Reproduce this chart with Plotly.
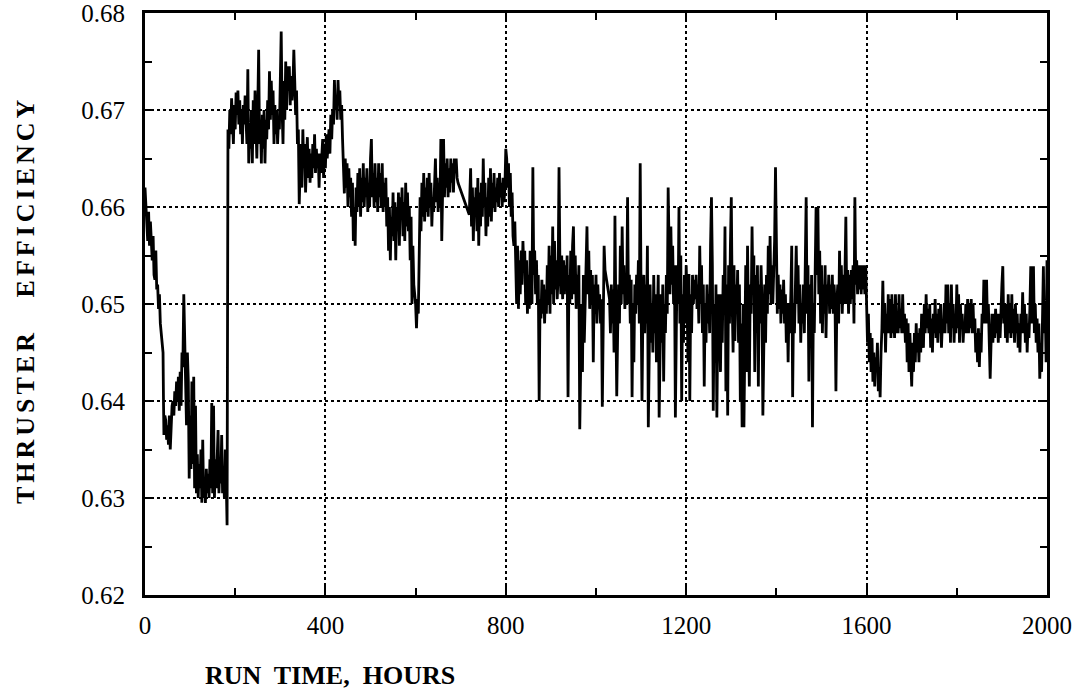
import plotly.graph_objects as go

hours = [
0,2,4,6,8,10,12,14,16,18,20,22,24,26,28,30,32,34,36,38,40,41,42,44,46,48,50,52,54,56,58,60,62,64,66,68,70,72,74,76,78,80,
82,84,86,88,90,92,94,96,98,100,102,104,106,108,110,112,114,116,118,120,122,124,126,128,130,132,134,136,138,140,142,144,146,148,150,
152,154,156,158,160,162,164,166,168,170,172,174,176,178,180,182,184,
186,188,190,192,194,196,198,200,202,204,206,208,210,212,214,216,218,220,222,224,226,228,230,232,234,236,238,240,242,244,246,248,250,
252,254,256,258,260,262,264,266,268,270,272,274,276,278,280,282,284,286,288,290,292,294,296,298,300,302,304,306,308,310,312,314,316,
318,320,322,324,326,328,330,332,334,336,338,340,342,344,346,348,350,352,354,356,358,360,362,364,366,368,370,372,374,376,378,380,382,
384,386,388,390,392,394,396,398,400,402,404,406,408,410,412,414,416,418,420,422,424,426,428,430,432,434,436,438,440,
442,444,446,448,450,452,454,456,458,460,462,464,466,468,470,472,474,476,478,480,482,484,486,488,490,492,494,496,498,500,502,504,506,
508,510,512,514,516,518,520,522,524,526,528,530,532,534,536,538,540,542,544,546,548,550,552,554,556,558,560,562,564,566,568,570,572,
574,576,578,580,582,584,586,588,590,592,594,596,598,600,602,604,606,608,610,612,614,616,618,620,622,624,626,628,630,632,634,636,638,
640,642,644,646,648,650,652,654,656,658,660,662,664,666,668,670,672,674,676,678,680,682,684,686,688,690,692,694,719,722,724,726,728,
730,732,734,736,738,740,742,744,746,748,750,752,754,756,758,760,762,764,766,768,770,772,774,776,778,780,782,784,786,788,790,792,794,
796,798,800,802,804,
806,808,810,812,814,816,818,820,822,824,826,828,830,832,834,836,838,840,842,844,846,848,850,852,854,856,858,860,862,864,866,868,870,
872,874,876,878,880,882,884,886,888,890,892,894,896,898,900,902,904,906,908,910,912,914,916,918,920,922,924,926,928,930,932,934,936,
938,940,942,944,946,948,950,952,954,956,958,960,962,964,966,968,970,972,974,976,978,980,982,984,986,988,990,992,994,996,998,1000,
1002,1004,1006,1008,1010,1012,1014,1016,1018,1020,1030,1032,1034,1036,1038,1040,1042,1044,1046,1048,1050,1052,1054,1056,1058,1060,
1062,1064,1066,1068,1070,1072,1074,1076,1078,1080,1082,1084,1086,1088,1090,1092,1094,1096,1098,1100,1102,1104,1106,1108,1110,1112,
1114,1116,1118,1120,1122,1124,1126,1128,1130,1132,1134,1136,1138,1140,1142,1144,1146,1148,1150,1152,1154,1156,1158,1160,1162,1164,
1166,1168,1170,1172,1174,1176,1178,1180,1182,1184,1186,1188,1190,1192,1194,1196,1198,1200,
1202,1204,1206,1208,1210,1212,1214,1216,1218,1220,1222,1224,1226,1228,1230,1232,1234,1236,1238,1240,1242,1244,1246,1248,1250,1252,
1254,1256,1258,1260,1262,1264,1266,1268,1270,1272,1274,1276,1278,1280,1282,1284,1286,1288,1290,1292,1294,1296,1298,1300,1302,1304,
1306,1308,1310,1312,1314,1316,1318,1320,1322,1324,1326,1328,1330,1332,1334,1336,1338,1340,1342,1344,1346,1348,1350,1352,1354,1356,
1358,1360,1362,1364,1366,1368,1370,1372,1374,1376,1378,1380,1382,1384,1386,1388,1390,1392,1394,1396,1398,1400,1402,1404,1406,1408,
1410,1412,1414,1416,1418,1420,1422,1424,1426,1428,1430,1432,1434,1436,1438,1440,1442,1444,1446,1448,1450,1452,1454,1456,1458,1460,
1462,1464,1466,1468,1470,1472,1474,1476,1478,1480,1482,1484,1486,1488,1490,1492,1494,1496,1498,1500,1502,1504,1506,1508,1510,1512,
1514,1516,1518,1520,1522,1524,1526,1528,1530,1532,1534,1536,1538,1540,1542,1544,1546,1548,1550,1552,1554,1556,1558,1560,1562,1564,
1566,1568,1570,1572,1574,1576,1578,1580,1582,1584,1586,1588,1590,1592,1594,1596,1598,1600,
1602,1604,1606,1608,1610,1612,1614,1616,1618,1620,1622,1624,1626,1628,1630,1632,1634,1636,1638,1640,1642,1644,1646,1648,1650,1652,
1654,1656,1658,1660,1662,1664,1666,1668,1670,1672,1674,1676,1678,1680,1682,1684,1686,1688,1690,1692,1694,1696,1698,1700,1702,1704,
1706,1708,1710,1712,1714,1716,1718,1720,1722,1724,1726,1728,1730,1732,1734,1736,1738,1740,1742,1744,1746,1748,1750,1752,1754,1756,
1758,1760,1762,1764,1766,1768,1770,1772,1774,1776,1778,1780,1782,1784,1786,1788,1790,1792,1794,1796,1798,1800,1802,1804,1806,1808,
1810,1812,1814,1816,1818,1820,1822,1824,1826,1828,1830,1832,1834,1836,1838,1840,1842,1844,1846,1848,1850,1852,1854,1856,1858,1860,
1862,1864,1866,1868,1870,1872,1874,1876,1878,1880,1882,1884,1886,1888,1890,1892,1894,1896,1898,1900,1902,1904,1906,1908,1910,1912,
1914,1916,1918,1920,1922,1924,1926,1928,1930,1932,1934,1936,1938,1940,1942,1944,1946,1948,1950,1952,1954,1956,1958,1960,1962,1964,
1966,1968,1970,1972,1974,1976,1978,1980,1982,1984,1986,1988,1990,1992,1994,1996,1998,2000,
]

efficiency = [
# 0-184 h
0.6620,0.6605,0.6590,0.6565,0.6595,0.6560,0.6585,0.6555,0.6545,0.6570,0.6530,0.6525,0.6555,0.6515,0.6520,0.6495,0.6510,0.6480,
0.6470,0.6455,0.6450,0.6400,0.6365,0.6385,0.6380,0.6360,0.6375,0.6355,0.6385,0.6350,0.6380,0.6395,0.6400,0.6385,0.6410,0.6395,
0.6420,0.6400,0.6425,0.6390,0.6430,0.6395,0.6450,0.6435,0.6510,0.6455,0.6440,0.6375,0.6450,0.6420,0.6320,0.6385,0.6330,0.6420,
0.6335,0.6425,0.6310,0.6395,0.6305,0.6345,0.6300,0.6335,0.6310,0.6350,0.6295,0.6360,0.6300,0.6320,0.6295,0.6330,0.6305,0.6325,
0.6300,0.6340,0.6310,0.6398,0.6305,0.6395,0.6300,0.6340,0.6310,0.6335,0.6370,0.6305,0.6340,0.6315,0.6365,0.6305,0.6330,0.6300,
0.6350,0.6320,0.6272,0.6680,
# 186-440 h
0.6660,0.6700,0.6675,0.6712,0.6690,0.6665,0.6705,0.6680,0.6718,0.6695,0.6720,0.6685,0.6710,0.6675,0.6700,0.6665,0.6705,0.6685,
0.6715,0.6690,0.6665,0.6742,0.6645,0.6680,0.6660,0.6700,0.6645,0.6710,0.6665,0.6720,0.6680,0.6650,0.6700,0.6762,0.6665,0.6690,
0.6645,0.6695,0.6660,0.6700,0.6645,0.6690,0.6670,0.6710,0.6680,0.6740,0.6690,0.6730,0.6695,0.6720,0.6665,0.6705,0.6675,0.6700,
0.6665,0.6690,0.6680,0.6720,0.6781,0.6700,0.6665,0.6730,0.6690,0.6750,0.6700,0.6745,0.6720,0.6745,0.6705,0.6735,0.6710,0.6725,
0.6762,0.6730,0.6695,0.6720,0.6665,0.6680,0.6603,0.6640,0.6665,0.6620,0.6680,0.6640,0.6665,0.6615,0.6650,0.6672,0.6630,0.6660,
0.6625,0.6655,0.6630,0.6665,0.6640,0.6675,0.6635,0.6660,0.6640,0.6655,0.6620,0.6655,0.6635,0.6650,0.6670,0.6630,0.6665,0.6640,
0.6675,0.6650,0.6665,0.6680,0.6655,0.6695,0.6670,0.6700,0.6685,0.6731,0.6700,0.6715,0.6690,0.6731,0.6705,0.6720,0.6690,0.6705,
0.6670,0.6640,
# 442-804 h
0.6614,0.6650,0.6620,0.6645,0.6600,0.6640,0.6610,0.6630,0.6590,0.6625,0.6565,0.6600,0.6560,0.6620,0.6595,0.6635,0.6600,0.6640,
0.6590,0.6630,0.6605,0.6645,0.6600,0.6630,0.6610,0.6640,0.6595,0.6625,0.6600,0.6650,0.6670,0.6610,0.6635,0.6600,0.6645,0.6605,
0.6630,0.6595,0.6645,0.6610,0.6635,0.6600,0.6645,0.6595,0.6625,0.6600,0.6630,0.6580,0.6610,0.6555,0.6600,0.6545,0.6590,0.6570,
0.6615,0.6565,0.6605,0.6545,0.6600,0.6575,0.6615,0.6560,0.6610,0.6590,0.6620,0.6570,0.6605,0.6565,0.6625,0.6580,0.6615,0.6575,
0.6600,0.6545,0.6590,0.6500,0.6560,0.6520,0.6510,0.6500,0.6475,0.6505,0.6490,0.6565,0.6610,0.6575,0.6625,0.6590,0.6635,0.6585,
0.6620,0.6595,0.6630,0.6590,0.6635,0.6600,0.6625,0.6580,0.6610,0.6595,0.6620,0.6650,0.6605,0.6630,0.6595,0.6625,0.6600,0.6670,
0.6565,0.6630,0.6670,0.6610,0.6645,0.6620,0.6650,0.6610,0.6640,0.6615,0.6650,0.6625,0.6645,0.6615,0.6650,0.6635,0.6650,0.6630,
0.6625,0.6592,0.6640,0.6580,0.6620,0.6565,0.6610,0.6590,0.6620,0.6575,0.6630,0.6560,0.6615,0.6580,0.6625,0.6590,0.6650,0.6600,
0.6625,0.6570,0.6610,0.6580,0.6630,0.6590,0.6640,0.6585,0.6625,0.6600,0.6635,0.6595,0.6620,0.6605,0.6630,0.6600,0.6635,0.6610,
0.6625,0.6600,0.6630,0.6605,0.6620,0.6660,0.6650,0.6620,
# 806-1200 h
0.6645,0.6600,0.6635,0.6590,0.6615,0.6570,0.6560,0.6585,0.6520,0.6500,0.6560,0.6495,0.6545,0.6510,0.6555,0.6520,0.6565,0.6535,
0.6555,0.6500,0.6545,0.6490,0.6530,0.6495,0.6555,0.6520,0.6500,0.6641,0.6530,0.6555,0.6510,0.6545,0.6500,0.6530,0.6400,0.6505,
0.6485,0.6525,0.6490,0.6520,0.6480,0.6515,0.6490,0.6540,0.6500,0.6560,0.6490,0.6550,0.6510,0.6580,0.6500,0.6565,0.6515,0.6545,
0.6505,0.6530,0.6641,0.6540,0.6510,0.6550,0.6505,0.6545,0.6510,0.6540,0.6520,0.6550,0.6404,0.6530,0.6500,0.6555,0.6505,0.6560,
0.6580,0.6510,0.6550,0.6495,0.6530,0.6500,0.6540,0.6371,0.6450,0.6500,0.6430,0.6530,0.6460,0.6500,0.6545,0.6580,0.6510,0.6555,
0.6495,0.6535,0.6500,0.6530,0.6440,0.6520,0.6490,0.6530,0.6480,0.6520,0.6495,0.6510,0.6480,0.6505,0.6394,0.6470,0.6560,0.6535,
0.6505,0.6470,0.6520,0.6480,0.6515,0.6450,0.6591,0.6490,0.6405,0.6470,0.6520,0.6480,0.6560,0.6500,0.6580,0.6510,0.6540,0.6495,
0.6530,0.6500,0.6610,0.6500,0.6530,0.6480,0.6525,0.6404,0.6500,0.6440,0.6520,0.6490,0.6530,0.6500,0.6545,0.6480,0.6645,0.6500,
0.6400,0.6490,0.6530,0.6470,0.6520,0.6480,0.6560,0.6373,0.6480,0.6520,0.6460,0.6500,0.6450,0.6530,0.6470,0.6510,0.6440,0.6500,
0.6530,0.6383,0.6480,0.6510,0.6460,0.6520,0.6420,0.6500,0.6470,0.6530,0.6490,0.6620,0.6560,0.6510,0.6580,0.6520,0.6560,0.6500,
0.6540,0.6383,0.6470,0.6540,0.6500,0.6600,0.6480,0.6550,0.6400,0.6510,0.6460,0.6530,0.6480,0.6540,
# 1202-1600 h
0.6500,0.6440,0.6531,0.6400,0.6510,0.6470,0.6530,0.6500,0.6525,0.6505,0.6530,0.6495,0.6520,0.6480,0.6560,0.6500,0.6540,0.6470,
0.6520,0.6415,0.6500,0.6460,0.6520,0.6480,0.6510,0.6470,0.6560,0.6610,0.6540,0.6390,0.6500,0.6440,0.6520,0.6383,0.6480,0.6510,
0.6470,0.6430,0.6510,0.6460,0.6530,0.6490,0.6580,0.6410,0.6520,0.6385,0.6540,0.6480,0.6560,0.6610,0.6500,0.6450,0.6540,0.6462,
0.6520,0.6490,0.6535,0.6460,0.6520,0.6400,0.6480,0.6373,0.6500,0.6373,0.6460,0.6540,0.6430,0.6560,0.6480,0.6415,0.6520,0.6490,
0.6580,0.6510,0.6550,0.6430,0.6530,0.6470,0.6540,0.6415,0.6520,0.6480,0.6540,0.6500,0.6385,0.6490,0.6520,0.6460,0.6530,0.6490,
0.6560,0.6510,0.6570,0.6500,0.6540,0.6500,0.6530,0.6565,0.6641,0.6520,0.6490,0.6530,0.6495,0.6520,0.6480,0.6515,0.6490,0.6525,
0.6480,0.6510,0.6460,0.6500,0.6440,0.6500,0.6470,0.6510,0.6560,0.6404,0.6500,0.6470,0.6520,0.6560,0.6500,0.6540,0.6480,0.6520,
0.6460,0.6500,0.6480,0.6520,0.6470,0.6520,0.6610,0.6490,0.6540,0.6420,0.6520,0.6460,0.6530,0.6373,0.6500,0.6470,0.6540,0.6600,
0.6530,0.6600,0.6510,0.6555,0.6480,0.6540,0.6470,0.6520,0.6490,0.6540,0.6465,0.6520,0.6500,0.6530,0.6490,0.6520,0.6495,0.6530,
0.6490,0.6520,0.6500,0.6410,0.6500,0.6520,0.6480,0.6555,0.6500,0.6540,0.6490,0.6530,0.6500,0.6530,0.6590,0.6500,0.6535,0.6490,
0.6530,0.6500,0.6535,0.6505,0.6540,0.6480,0.6610,0.6520,0.6545,0.6510,0.6540,0.6515,0.6540,0.6510,0.6540,0.6515,0.6540,0.6510,
0.6540,0.6480,
# 1602-2000 h
0.6460,0.6490,0.6440,0.6470,0.6430,0.6465,0.6420,0.6450,0.6415,0.6445,0.6430,0.6460,0.6410,0.6435,0.6404,0.6450,0.6475,0.6524,
0.6470,0.6500,0.6450,0.6490,0.6470,0.6510,0.6470,0.6505,0.6465,0.6510,0.6470,0.6500,0.6465,0.6510,0.6470,0.6490,0.6470,0.6510,
0.6475,0.6495,0.6470,0.6510,0.6470,0.6490,0.6460,0.6485,0.6440,0.6480,0.6430,0.6470,0.6440,0.6415,0.6460,0.6430,0.6470,0.6440,
0.6480,0.6450,0.6470,0.6440,0.6475,0.6450,0.6490,0.6460,0.6455,0.6500,0.6470,0.6510,0.6475,0.6495,0.6470,0.6500,0.6455,0.6485,
0.6450,0.6490,0.6470,0.6505,0.6465,0.6490,0.6460,0.6495,0.6470,0.6500,0.6455,0.6480,0.6470,0.6500,0.6470,0.6520,0.6480,0.6520,
0.6470,0.6500,0.6460,0.6520,0.6475,0.6500,0.6460,0.6490,0.6470,0.6520,0.6475,0.6510,0.6460,0.6500,0.6475,0.6490,0.6460,0.6480,
0.6470,0.6500,0.6470,0.6505,0.6470,0.6500,0.6475,0.6505,0.6470,0.6500,0.6470,0.6485,0.6450,0.6470,0.6440,0.6475,0.6435,0.6470,
0.6450,0.6490,0.6480,0.6525,0.6480,0.6510,0.6525,0.6480,0.6500,0.6460,0.6423,0.6460,0.6490,0.6460,0.6490,0.6465,0.6495,0.6470,
0.6490,0.6460,0.6490,0.6465,0.6500,0.6520,0.6539,0.6480,0.6500,0.6465,0.6500,0.6460,0.6510,0.6470,0.6500,0.6465,0.6510,0.6470,
0.6495,0.6460,0.6500,0.6470,0.6490,0.6455,0.6480,0.6450,0.6490,0.6470,0.6512,0.6470,0.6500,0.6460,0.6490,0.6450,0.6480,0.6465,
0.6495,0.6539,0.6480,0.6510,0.6539,0.6470,0.6500,0.6460,0.6485,0.6450,0.6480,0.6423,0.6460,0.6430,0.6490,0.6539,0.6470,0.6500,
0.6440,0.6545,
]

x_ticks = [0, 400, 800, 1200, 1600, 2000]
x_tick_labels = ["0", "400", "800", "1200", "1600", "2000"]
y_ticks = [0.62, 0.63, 0.64, 0.65, 0.66, 0.67, 0.68]
y_tick_labels = ["0.62", "0.63", "0.64", "0.65", "0.66", "0.67", "0.68"]

assert len(hours) == len(efficiency), (len(hours), len(efficiency))

SERIF = "Liberation Serif, Times New Roman, serif"

fig = go.Figure()
fig.add_trace(go.Scatter(
    x=hours, y=efficiency, mode="lines",
    line=dict(color="black", width=2.8),
    showlegend=False, hoverinfo="skip",
))

axis_common = dict(
    showline=True, linecolor="black", linewidth=3, mirror="allticks",
    ticks="inside", ticklen=9, tickwidth=2, tickcolor="black",
    showgrid=True, gridcolor="black", gridwidth=1.8, griddash="dot",
    zeroline=False, automargin=False, ticklabeloverflow="allow",
    tickfont=dict(family=SERIF, size=25, color="black"),
)

fig.update_xaxes(
    range=[0, 2000], tickmode="array", tickvals=x_ticks, ticktext=x_tick_labels,
    minor=dict(dtick=200, tick0=0, ticks="inside", ticklen=7, tickwidth=2, tickcolor="black", showgrid=False),
    ticklabelstandoff=6,
    **axis_common,
)
fig.update_yaxes(
    range=[0.62, 0.68], tickmode="array", tickvals=y_ticks, ticktext=y_tick_labels,
    minor=dict(dtick=0.005, tick0=0.62, ticks="inside", ticklen=7, tickwidth=2, tickcolor="black", showgrid=False),
    ticklabelstandoff=12,
    **axis_common,
)

fig.update_layout(
    width=1083, height=693,
    margin=dict(l=145, r=36, t=13, b=98),
    paper_bgcolor="white", plot_bgcolor="white",
    annotations=[
        dict(text="<b>RUN\u00a0 TIME,\u00a0 HOURS</b>", xref="paper", yref="paper",
             x=(330 - 145) / 902, y=-(675 - 595) / 582, xanchor="center", yanchor="middle",
             showarrow=False, font=dict(family=SERIF, size=26, color="black")),
        dict(text="<b><span style='letter-spacing:4px'>THRUSTER\u00a0\u00a0 EFFICIENCY</span></b>",
             xref="paper", yref="paper",
             x=-(145 - 25) / 902, y=(595 - 300) / 582, xanchor="center", yanchor="middle",
             textangle=-90, showarrow=False, font=dict(family=SERIF, size=26, color="black")),
    ],
)

fig.write_html(
    "out.html",
    config={"displayModeBar": False},
    post_script="document.body.style.margin='0';document.body.style.overflow='hidden';",
)
